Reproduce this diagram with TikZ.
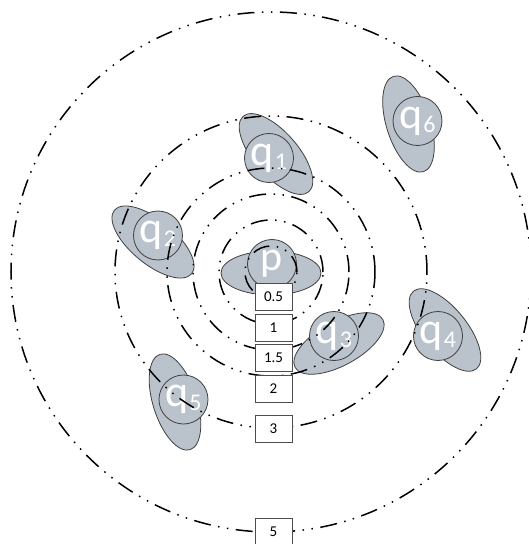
\documentclass[tikz,border=0pt]{standalone}
\usepackage{fontspec}
\setmainfont{Carlito}
\usetikzlibrary{shapes.geometric}
\definecolor{blobfill}{RGB}{186,194,204}
\definecolor{edge}{RGB}{64,64,64}
% q with its index set as in the figure
\newcommand{\qname}[1]{{\fontsize{44}{44}\selectfont q}\kern1pt\raisebox{-4pt}{\fontsize{24}{24}\selectfont #1}}
\begin{document}
\begin{tikzpicture}[x=1pt, y=1pt,
    blob/.style={ellipse, draw=edge, fill=blobfill, line width=0.8pt, minimum width=100pt, minimum height=44pt, inner sep=0pt},
    disc/.style={circle, draw=edge, fill=blobfill, line width=0.8pt, minimum size=49pt, inner sep=0pt, text=white},
    ring/.style={line width=1.5pt, dash pattern=on 17pt off 7.5pt on 1.5pt off 7.5pt on 1.5pt off 7.5pt},
    tag/.style={draw=black!70, fill=white, line width=0.7pt, minimum width=37pt, minimum height=27pt, inner sep=0pt, font=\fontsize{15}{15}\selectfont}
  ]
  \useasboundingbox (-271,-272) rectangle (258,272);
  \coordinate (c) at (0,0);
  % the point p
  \node[blob] (pe) at (0,-1) {};
  \node[disc] (p) at (1,8) {\fontsize{42}{42}\selectfont p};
  % its neighbours q1 ... q6
  \foreach \n/\ex/\ey/\rot/\cx/\cy in {
      1/5/118/-49/-2/114,
      2/-118/30/-39.5/-113/36.5,
      3/68/-71.5/28.6/63/-64,
      4/174/-58/-51/167/-64,
      5/-96/-130/-72.5/-87.5/-127.5,
      6/137.5/148/-72.5/146.5/151} {
    \node[blob, rotate=\rot] (e\n) at (\ex,\ey) {};
    \node[disc] (q\n) at (\cx,\cy) {\qname{\n}};
  }
  % distance rings
  \foreach \r in {0.5,1,1.5,2,3,5}
    \draw[ring] (c) circle[radius=\r*52pt];
  \foreach \r/\y [count=\i] in {0.5/-24.5, 1/-55.5, 1.5/-85.5, 2/-116.5, 3/-156.5, 5/-260}
    \node[tag] (t\i) at (2.5,\y) {\r};
\end{tikzpicture}
\end{document}
